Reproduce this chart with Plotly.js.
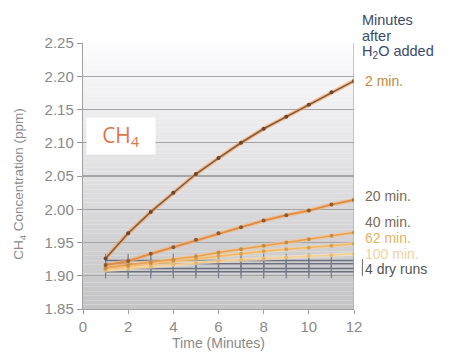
<!DOCTYPE html>
<html><head><meta charset="utf-8">
<script src="https://cdn.plot.ly/plotly-3.0.1.min.js"></script>
<style>html,body{margin:0;padding:0;background:#fff}#chart{width:449px;height:352px}</style>
</head><body><div id="chart"></div>
<script>
// ---- data ----
const time = [1,2,3,4,5,6,7,8,9,10,11,12];
const ch4_2min   = [1.926,1.964,1.996,2.025,2.053,2.077,2.100,2.121,2.139,2.157,2.176,2.193];
const ch4_20min  = [1.916,1.922,1.933,1.943,1.954,1.964,1.973,1.983,1.991,1.998,2.007,2.014];
const ch4_40min  = [1.912,1.916,1.920,1.924,1.929,1.935,1.940,1.945,1.950,1.955,1.960,1.965];
const ch4_62min  = [1.910,1.914,1.918,1.922,1.926,1.930,1.933,1.937,1.940,1.942,1.945,1.948];
const ch4_100min = [1.908,1.911,1.914,1.917,1.919,1.922,1.924,1.926,1.928,1.930,1.931,1.933];
const dry1 = [1.923,1.923,1.923,1.923,1.923,1.923,1.923,1.923,1.923,1.923,1.923,1.923];
const dry2 = [1.918,1.918,1.918,1.918,1.918,1.918,1.918,1.918,1.918,1.918,1.918,1.918];
const dry3 = [1.911,1.911,1.911,1.911,1.911,1.911,1.911,1.911,1.911,1.911,1.911,1.911];
const dry4 = [1.906,1.906,1.906,1.906,1.906,1.906,1.906,1.906,1.906,1.906,1.906,1.906];
const dryErr = 0.010;
const yTicks = [1.85,1.90,1.95,2.00,2.05,2.10,2.15,2.20,2.25];
const yTickText = ["1.85","1.90","1.95","2.00","2.05","2.10","2.15","2.20","2.25"];
const xTicks = [0,2,4,6,8,10,12];
const seriesLabels = ["2 min.","20 min.","40 min.","62 min.","100 min.","4 dry runs"];
const labelY = [2.193,2.020,1.981,1.957,1.933,1.910];
const headerLines = ["Minutes","after","H<sub>2</sub>O added"];
const headerY = [2.285,2.261,2.236];

const Y0 = 1.85, Y1 = 2.25;
const toPaper = v => (v - Y0) / (Y1 - Y0);

// ---- traces ----
const traces = [];
[dry4,dry3,dry2,dry1].forEach(d=>{
  traces.push({x:time,y:d,type:'scatter',mode:'lines',
    line:{color:'#6c7180',width:1.6},
    error_y:{type:'constant',value:dryErr,color:'#7a7f8c',thickness:1.2,width:0},
    hoverinfo:'skip',cliponaxis:false});
});
function series(y,glow,lineC,markC,lw){
  traces.push({x:time,y:y,type:'scatter',mode:'lines',line:{color:glow,width:lw+2.5},opacity:0.6,hoverinfo:'skip'});
  traces.push({x:time,y:y,type:'scatter',mode:'lines+markers',line:{color:lineC,width:lw},
    marker:{color:markC,size:4},hoverinfo:'skip'});
}
series(ch4_100min,'#fbe3bd','#f4cf92','#e9b870',1.3);
series(ch4_62min,'#f8d49c','#f0b860','#d9a050',1.5);
series(ch4_40min,'#f6c48a','#e9a04e','#c98a44',1.6);
series(ch4_20min,'#f4b47a','#e28a42','#8a5a33',1.8);
series(ch4_2min,'#f0a060','#8c5a32','#6e4526',1.6);

// gradient background bands
const shapes = [];
const N = 60;
for(let i=0;i<N;i++){
  const t = i/(N-1);
  const top = Y1 - (Y1-Y0)*i/N, bot = Y1 - (Y1-Y0)*(i+1)/N;
  const c = Math.round(252 - t*56);
  shapes.push({type:'rect',xref:'x',yref:'y',x0:0,x1:12,y0:bot,y1:top,
    fillcolor:`rgb(${c},${c},${c+2})`,line:{width:0},layer:'below'});
}
// right border
shapes.push({type:'line',xref:'x',yref:'y',x0:12,x1:12,y0:Y0,y1:Y1,line:{color:'#a8a8a8',width:1.2}});
// dry runs bracket
shapes.push({type:'line',xref:'paper',yref:'y',x0:1.031,x1:1.031,y0:1.900,y1:1.925,line:{color:'#666',width:1}});

const labelColors = ['#c4883c','#7a6a55','#7a6a55','#e2b464','#f2d2a0','#555555'];
const annotations = [];
seriesLabels.forEach((s,i)=>{
  annotations.push({text:s,xref:'paper',yref:'paper',x:1.036,y:toPaper(labelY[i]),xanchor:'left',yanchor:'middle',
    showarrow:false,borderpad:0,font:{family:'Liberation Sans, Arial',size:14,color:labelColors[i]}});
});
headerLines.forEach((s,i)=>{
  annotations.push({text:s,xref:'paper',yref:'paper',x:1.026,y:toPaper(headerY[i]),xanchor:'left',yanchor:'middle',
    showarrow:false,borderpad:0,font:{family:'Liberation Sans, Arial',size:14.5,color:'#3d4a6a'}});
});
annotations.push({text:'CH<sub>4</sub>',xref:'x',yref:'y',x:1.7,y:2.110,xanchor:'center',yanchor:'middle',
  showarrow:false,bgcolor:'#ffffff',borderpad:4,width:60,height:28,
  font:{family:'Open Sans, Lato',size:21,color:'#de774a'}});
annotations.push({text:'CH<sub>4</sub> Concentration (ppm)',xref:'paper',yref:'paper',x:-0.233,y:0.47,
  xanchor:'center',yanchor:'middle',textangle:-90,showarrow:false,
  font:{family:'Liberation Sans, Arial',size:13.5,color:'#8a8a8a'}});

const layout = {
  width:449,height:352,
  margin:{l:83,r:95,t:43,b:43},
  paper_bgcolor:'#ffffff',plot_bgcolor:'#ffffff',
  showlegend:false,
  xaxis:{range:[0,12],tickvals:xTicks,ticks:'outside',ticklen:4,tickcolor:'#9a9a9a',
    showgrid:false,zeroline:false,showline:true,linecolor:'#a0a0a0',linewidth:1.2,
    tickfont:{family:'Liberation Sans, Arial',size:15,color:'#8a8a8a'},
    title:{text:'Time (Minutes)',standoff:1,font:{family:'Liberation Sans, Arial',size:14,color:'#8a8a8a'}}},
  yaxis:{range:[Y0,Y1],tickvals:yTicks,ticktext:yTickText,ticks:'outside',ticklen:5,tickcolor:'#9a9a9a',
    showgrid:true,gridcolor:'#a5a5a5',gridwidth:1.4,zeroline:false,showline:true,linecolor:'#a0a0a0',linewidth:1.2,
    tickfont:{family:'Liberation Sans, Arial',size:15,color:'#8a8a8a'}},
  shapes:shapes,annotations:annotations
};
Plotly.newPlot('chart',traces,layout,{displayModeBar:false,staticPlot:true});
</script></body></html>
